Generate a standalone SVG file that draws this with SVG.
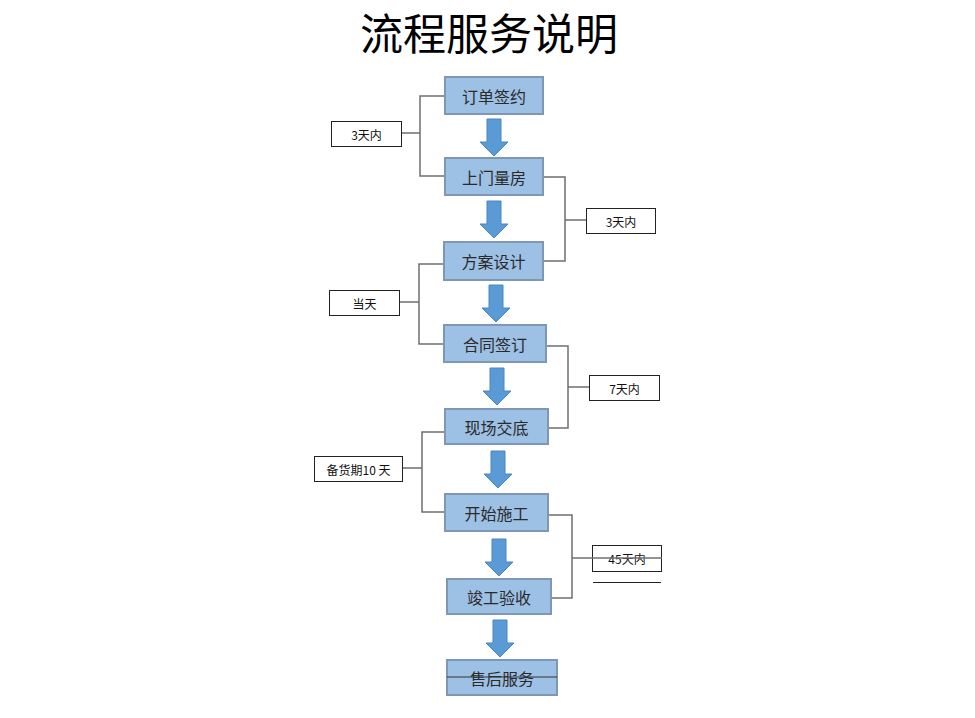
<svg xmlns="http://www.w3.org/2000/svg" xmlns:xlink="http://www.w3.org/1999/xlink" width="975" height="718" viewBox="0 0 975 718">
<style>
.box{fill:#9dc0e5;stroke:#7f96b6;stroke-width:2}
.bt{font-family:"Noto Sans CJK SC","Noto Sans",sans-serif;font-size:16px;fill:#2a2a2a;text-anchor:middle;dominant-baseline:central}
.lb{fill:#fff;stroke:#222;stroke-width:1}
.lt{font-family:"Noto Sans CJK SC","Noto Sans",sans-serif;font-size:12px;fill:#111;text-anchor:middle;dominant-baseline:central}
.ln{fill:none;stroke:#6f6f6f;stroke-width:1.5}
.arr{fill:#5b9bd5;stroke:#4a86c0;stroke-width:1}
</style>
<defs>
<path id="ar" d="M-7,0 H7 V23 H14 L0,37 L-14,23 H-7 Z"/>
</defs>
<rect width="975" height="718" fill="#fff"/>
<text x="489" y="31" font-family="'Noto Sans CJK SC',sans-serif" font-size="43" fill="#000" text-anchor="middle" dominant-baseline="central">流程服务说明</text>
<g id="connectors">
<path class="ln" d="M444,96 H420 V176 H445 M401,133 H420"/>
<path class="ln" d="M543,177 H565 V261 H543 M565,220 H586"/>
<path class="ln" d="M444,264 H419 V344 H444 M399,302 H419"/>
<path class="ln" d="M546,346 H568 V428 H548 M568,387 H589"/>
<path class="ln" d="M445,432 H422 V512 H445 M402,468 H422"/>
<path class="ln" d="M548,515 H572 V598 H551"/>
<g class="arr">
<use xlink:href="#ar" transform="translate(494,119)"/>
<use xlink:href="#ar" transform="translate(494,201)"/>
<use xlink:href="#ar" transform="translate(496,285)"/>
<use xlink:href="#ar" transform="translate(497,368)"/>
<use xlink:href="#ar" transform="translate(498,451)"/>
<use xlink:href="#ar" transform="translate(499,539)"/>
<use xlink:href="#ar" transform="translate(500,620)"/>
</g>
</g>
<g id="n1"><rect class="box" x="445" y="77" width="98" height="37"/><text class="bt" x="494" y="95.5">订单签约</text></g>
<g id="n2"><rect class="box" x="445" y="158" width="98" height="37"/><text class="bt" x="494" y="176.5">上门量房</text></g>
<g id="n3"><rect class="box" x="444" y="242" width="99" height="38"/><text class="bt" x="493.5" y="261">方案设计</text></g>
<g id="n4"><rect class="box" x="444" y="325" width="102" height="37"/><text class="bt" x="495" y="343.5">合同签订</text></g>
<g id="n5"><rect class="box" x="445" y="409" width="103" height="35"/><text class="bt" x="496.5" y="426.5">现场交底</text></g>
<g id="n6"><rect class="box" x="445" y="494" width="103" height="37"/><text class="bt" x="496.5" y="512.5">开始施工</text></g>
<g id="n7"><rect class="box" x="447" y="579" width="104" height="35"/><text class="bt" x="499" y="596.5">竣工验收</text></g>
<g id="n8"><rect class="box" x="447" y="660" width="110" height="35"/><text class="bt" x="502" y="677.5">售后服务</text><path d="M447,677 H557" stroke="#333" stroke-width="1"/></g>
<g id="l1"><rect class="lb" x="331.5" y="121.5" width="70" height="25"/><text class="lt" x="366.5" y="134">3天内</text></g>
<g id="l2"><rect class="lb" x="586.5" y="208.5" width="69" height="25"/><text class="lt" x="621" y="221">3天内</text></g>
<g id="l3"><rect class="lb" x="329.5" y="290.5" width="70" height="25"/><text class="lt" x="364.5" y="303">当天</text></g>
<g id="l4"><rect class="lb" x="589.5" y="375.5" width="70" height="25"/><text class="lt" x="624.5" y="388">7天内</text></g>
<g id="l5"><rect class="lb" x="314.5" y="456.5" width="88" height="25"/><text class="lt" x="358.5" y="469">备货期10 天</text></g>
<g id="l6"><rect class="lb" x="592.5" y="545.5" width="69" height="26"/><text class="lt" x="627" y="558">45天内</text><path class="ln" d="M572,558 H662" stroke="#333"/><path d="M593,582.5 H661" stroke="#222" stroke-width="1"/></g>
</svg>
